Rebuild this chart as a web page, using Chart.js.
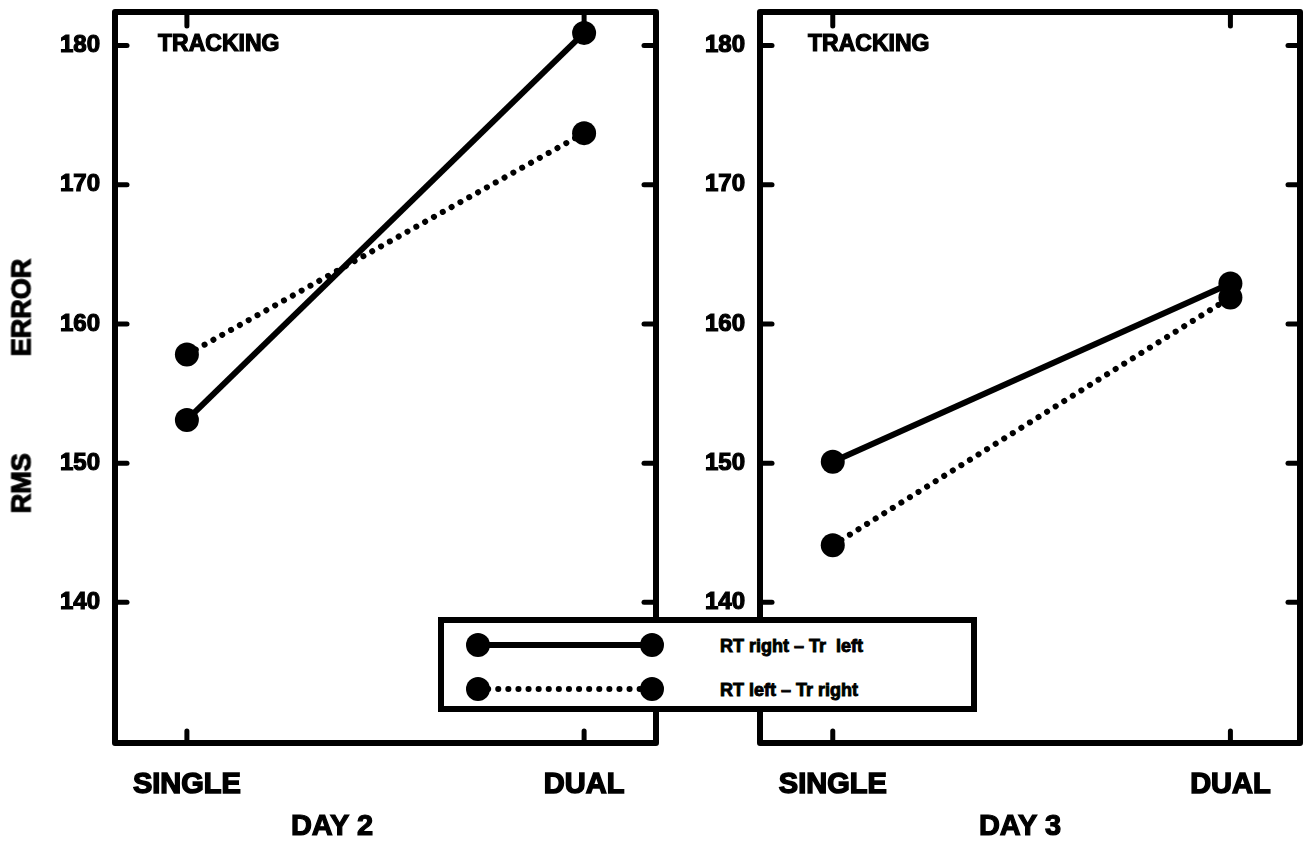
<!DOCTYPE html>
<html>
<head>
    <title>Tracking RMS Error</title>
    <script src="https://cdn.jsdelivr.net/npm/chart.js"></script>
    <style>
        body { margin: 0; background: #fff; }
        #wrap { position: relative; width: 1312px; height: 849px; overflow: hidden;
                font-family: 'Liberation Sans', Arial, sans-serif; font-weight: bold; color: #000; }
        canvas { position: absolute; top: 0; }
        .txt { position: absolute; white-space: nowrap; line-height: 1; -webkit-text-stroke: 1.2px #000; }
        #legend { position: absolute; left: 438px; top: 617px; width: 539px; height: 95px;
                  box-sizing: border-box; border: 6px solid #000; background: #fff; z-index: 5; }
    </style>
</head>
<body>
<div id="wrap">
    <canvas id="day2" width="680" height="849" style="left:0"></canvas>
    <canvas id="day3" width="632" height="849" style="left:680px"></canvas>

    <div class="txt" style="left:22px; top:386px; font-size:27px; transform:translate(-50%,-50%) rotate(-90deg);">
        <span>RMS</span><span style="margin-left:97px">ERROR</span>
    </div>
    <div class="txt" id="track2" style="left:158px; top:43px; font-size:23px; transform:translateY(-50%);"></div>
    <div class="txt" id="track3" style="left:808px; top:43px; font-size:23px; transform:translateY(-50%);"></div>
    <div class="txt" id="title2" style="left:332px; top:825px; font-size:29px; transform:translate(-50%,-50%);"></div>
    <div class="txt" id="title3" style="left:1020px; top:825px; font-size:29px; transform:translate(-50%,-50%);"></div>
    <div id="legend"></div>
</div>

<script>
    // values
    const categories = ['SINGLE', 'DUAL'];
    const seriesNames = ['RT right \u2013 Tr  left', 'RT left \u2013 Tr right'];
    const panelTitles = ['DAY 2', 'DAY 3'];
    const taskLabel = 'TRACKING';
    const yTickValues = [140, 150, 160, 170, 180];

    const day2RightLeft = [153.1, 180.9];   // solid
    const day2LeftRight = [157.8, 173.7];   // dotted
    const day3RightLeft = [150.1, 162.9];
    const day3LeftRight = [144.1, 161.9];

    const FONT = '"Liberation Sans", Arial, sans-serif';
    const DOTS = [0.1, 10];

    // heavy box frame with the little inward ticks on all four sides
    const framePlugin = {
        id: 'frame',
        afterDatasetsDraw(chart) {
            const { ctx, chartArea: a, scales: { x, y } } = chart;
            const seg = (x1, y1, x2, y2) => { ctx.beginPath(); ctx.moveTo(x1, y1); ctx.lineTo(x2, y2); ctx.stroke(); };
            ctx.save();
            ctx.strokeStyle = '#000';
            ctx.lineJoin = 'round';
            ctx.lineWidth = 6;
            ctx.strokeRect(a.left, a.top, a.right - a.left, a.bottom - a.top);
            ctx.lineWidth = 5;
            ctx.lineCap = 'round';
            y.ticks.forEach(t => {
                const py = y.getPixelForValue(t.value);
                seg(a.left, py, a.left + 12, py);
                seg(a.right, py, a.right - 12, py);
            });
            x.ticks.forEach(t => {
                const px = x.getPixelForValue(t.value);
                seg(px, a.bottom, px, a.bottom - 12);
                seg(px, a.top, px, a.top + 14);
            });
            ctx.restore();
        }
    };

    function series(vals) {
        return categories.map((c, i) => ({ x: i, y: vals[i] }));
    }

    function makePanel(id, solid, dotted, yWidth, padRight, xMin, xMax) {
        return new Chart(document.getElementById(id), {
            type: 'line',
            data: {
                datasets: [
                    {
                        label: seriesNames[0],
                        data: series(solid),
                        borderColor: '#000',
                        backgroundColor: '#000',
                        borderWidth: 6,
                        pointRadius: 12,
                        pointBorderWidth: 0,
                        pointBackgroundColor: '#000'
                    },
                    {
                        label: seriesNames[1],
                        data: series(dotted),
                        borderColor: '#000',
                        backgroundColor: '#000',
                        borderWidth: 6,
                        borderDash: DOTS,
                        borderCapStyle: 'round',
                        pointRadius: 12,
                        pointBorderWidth: 0,
                        pointBackgroundColor: '#000'
                    }
                ]
            },
            options: {
                responsive: false,
                animation: false,
                events: [],
                layout: { padding: { top: 8, right: padRight, left: 0, bottom: 0 } },
                plugins: { legend: { display: false }, tooltip: { enabled: false } },
                scales: {
                    x: {
                        type: 'linear',
                        min: xMin,
                        max: xMax,
                        grid: { display: false },
                        border: { display: false },
                        afterBuildTicks: s => { s.ticks = categories.map((c, i) => ({ value: i })); },
                        afterFit: s => { s.height = 106; s.paddingLeft = 0; s.paddingRight = 0; },
                        ticks: {
                            callback: v => categories[v],
                            autoSkip: false,
                            maxRotation: 0,
                            padding: 17,
                            color: '#000',
                            textStrokeColor: '#000',
                            textStrokeWidth: 1.5,
                            font: { family: FONT, size: 29, weight: 'bold' }
                        }
                    },
                    y: {
                        min: 129.9,
                        max: 182.4,
                        grid: { display: false },
                        border: { display: false },
                        afterBuildTicks: s => { s.ticks = yTickValues.map(v => ({ value: v })); },
                        afterFit: s => { s.width = yWidth; s.paddingTop = 0; s.paddingBottom = 0; },
                        ticks: {
                            padding: 7,
                            color: '#000',
                            textStrokeColor: '#000',
                            textStrokeWidth: 1.2,
                            font: { family: FONT, size: 24, weight: 'bold' }
                        }
                    }
                }
            },
            plugins: [framePlugin]
        });
    }

    const chart2 = makePanel('day2', day2RightLeft, day2LeftRight, 115, 24, -0.181, 1.181);
    const chart3 = makePanel('day3', day3RightLeft, day3LeftRight, 80, 12, -0.183, 1.175);

    document.getElementById('track2').textContent = taskLabel;
    document.getElementById('track3').textContent = taskLabel;
    document.getElementById('title2').textContent = panelTitles[0];
    document.getElementById('title3').textContent = panelTitles[1];

    // legend box built from the dataset styles
    function buildLegend(chart) {
        const ns = 'http://www.w3.org/2000/svg';
        const svg = document.createElementNS(ns, 'svg');
        svg.setAttribute('width', '527');
        svg.setAttribute('height', '83');
        const rowsY = [22, 66];
        chart.data.datasets.forEach((ds, i) => {
            const yy = rowsY[i];
            const line = document.createElementNS(ns, 'line');
            line.setAttribute('x1', 34); line.setAttribute('x2', 208);
            line.setAttribute('y1', yy); line.setAttribute('y2', yy);
            line.setAttribute('stroke', '#000');
            line.setAttribute('stroke-width', 6);
            if (ds.borderDash) {
                line.setAttribute('stroke-dasharray', ds.borderDash.join(' '));
                line.setAttribute('stroke-linecap', 'round');
            }
            svg.appendChild(line);
            [34, 208].forEach(cx => {
                const c = document.createElementNS(ns, 'circle');
                c.setAttribute('cx', cx); c.setAttribute('cy', yy); c.setAttribute('r', 12);
                c.setAttribute('fill', '#000');
                svg.appendChild(c);
            });
            const t = document.createElementNS(ns, 'text');
            t.setAttribute('x', 276);
            t.setAttribute('y', yy + 7);
            t.setAttribute('font-family', FONT);
            t.setAttribute('font-weight', 'bold');
            t.setAttribute('font-size', '18');
            t.setAttribute('stroke', '#000');
            t.setAttribute('stroke-width', '0.9');
            t.style.whiteSpace = 'pre';
            t.textContent = ds.label;
            svg.appendChild(t);
        });
        document.getElementById('legend').appendChild(svg);
    }
    buildLegend(chart2);
</script>
</body>
</html>
